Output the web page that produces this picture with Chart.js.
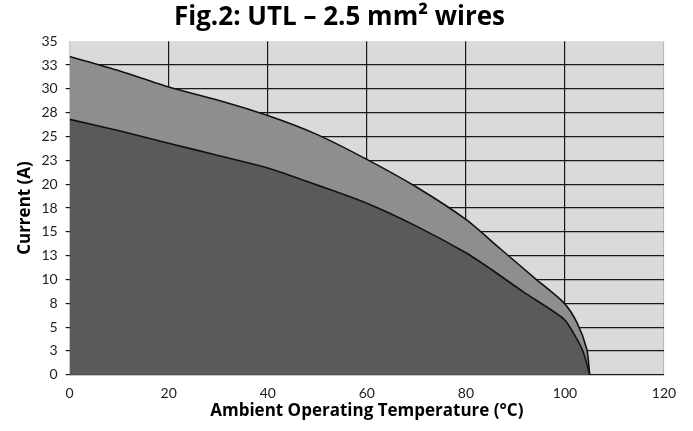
<!DOCTYPE html>
<html>
<head>
<meta charset="utf-8">
<script src="https://cdn.jsdelivr.net/npm/chart.js@4.4.0/dist/chart.umd.min.js"></script>
<style>
  html, body { margin: 0; padding: 0; background: #fff; }
  #wrap { width: 693px; height: 431px; }
</style>
</head>
<body>
<div id="wrap"><canvas id="utlChart"></canvas></div>
<script>
// values
const tempHigh = [0, 10, 20, 30, 40, 50, 60, 70, 80, 87, 94, 99.7, 102.4, 104.4, 105];
const currentHigh = [33.4, 31.9, 30.2, 28.8, 27.2, 25.2, 22.6, 19.7, 16.3, 13.2, 10.1, 7.6, 5.5, 2.7, 0];
const tempLow = [0, 10, 20, 30, 40, 50, 60, 70, 80, 85, 91.6, 99.7, 101.7, 103.7, 105];
const currentLow = [26.8, 25.6, 24.3, 23.0, 21.7, 19.9, 18.0, 15.6, 12.8, 11.1, 8.7, 5.9, 4.4, 2.4, 0];
const yTickLabels = ['0', '3', '5', '8', '10', '13', '15', '18', '20', '23', '25', '28', '30', '33', '35'];
const xTickLabels = ['0', '20', '40', '60', '80', '100', '120'];

const toPoints = (xs, ys) => xs.map((x, i) => ({ x: x, y: ys[i] }));

// light grey plot background
const plotBg = {
  id: 'plotBg',
  beforeDraw(chart) {
    const { ctx, chartArea: a } = chart;
    ctx.save();
    ctx.fillStyle = '#dadada';
    ctx.fillRect(a.left, a.top, a.right - a.left, a.bottom - a.top);
    ctx.restore();
  },
};

new Chart(document.getElementById('utlChart'), {
  type: 'line',
  data: {
    datasets: [
      {
        label: 'low',
        data: toPoints(tempLow, currentLow),
        borderColor: '#111',
        borderWidth: 1.6,
        backgroundColor: '#5a5a5a',
        fill: 'origin',
        pointRadius: 0,
        tension: 0.25,
      },
      {
        label: 'high',
        data: toPoints(tempHigh, currentHigh),
        borderColor: '#111',
        borderWidth: 1.6,
        backgroundColor: '#8e8e8e',
        fill: 'origin',
        pointRadius: 0,
        tension: 0.25,
      },
    ],
  },
  options: {
    responsive: true,
    maintainAspectRatio: false,
    animation: false,
    layout: { padding: { left: 15, right: 29, top: 0, bottom: 10 } },
    plugins: {
      legend: { display: false },
      tooltip: { enabled: false },
      title: {
        display: true,
        text: 'Fig.2: UTL – 2.5 mm² wires',
        color: '#000',
        font: { family: 'Open Sans', size: 26, weight: 'bold' },
        padding: { top: 2, bottom: 8 },
      },
    },
    scales: {
      x: {
        type: 'linear',
        min: 0,
        max: 120,
        z: 1,
        ticks: {
          stepSize: 20,
          color: '#222',
          font: { family: 'Lato', size: 14 },
          padding: 10,
          callback: (v, i) => xTickLabels[i],
        },
        grid: {
          color: (c) => (c.index === 0 || c.index === 6 ? 'rgba(0,0,0,0.15)' : '#1a1a1a'),
          lineWidth: 1.2,
          drawTicks: false,
        },
        border: { display: false },
        title: {
          display: true,
          text: 'Ambient Operating Temperature (°C)',
          color: '#000',
          font: { family: 'Open Sans', size: 17, weight: 'bold' },
          padding: { top: -11, bottom: 0 },
        },
      },
      y: {
        min: 0,
        max: 35,
        z: 1,
        ticks: {
          stepSize: 2.5,
          autoSkip: false,
          color: '#222',
          font: { family: 'Lato', size: 14 },
          padding: 8,
          callback: (v, i) => yTickLabels[i],
        },
        grid: {
          color: (c) => (c.index === 14 ? 'rgba(0,0,0,0)' : '#1a1a1a'),
          lineWidth: 1.2,
          tickLength: 4,
        },
        border: { display: false },
        title: {
          display: true,
          text: 'Current (A)',
          color: '#000',
          font: { family: 'Open Sans', size: 17, weight: 'bold' },
          padding: { top: 0, bottom: -2 },
        },
      },
    },
  },
  plugins: [plotBg],
});
</script>
</body>
</html>
